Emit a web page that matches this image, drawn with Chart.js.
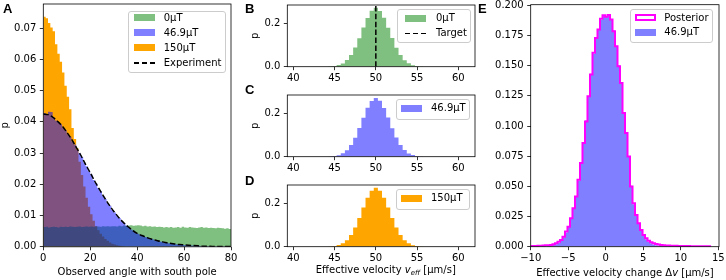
<!DOCTYPE html>
<html><head><meta charset="utf-8">
<script src="https://cdn.jsdelivr.net/npm/chart.js@4.4.1/dist/chart.umd.min.js"></script>
<style>
html,body{margin:0;padding:0;background:#fff;}
body{width:726px;height:280px;position:relative;overflow:hidden;font-family:"DejaVu Sans",sans-serif;}
canvas{position:absolute;}
.lbl{position:absolute;font:bold 13px "Liberation Sans",Arial,sans-serif;line-height:13px;color:#000;z-index:5;}
.leg{position:absolute;border:1px solid #cccccc;border-radius:3px;background:rgba(255,255,255,0.8);box-sizing:border-box;z-index:5;}
.leg .h{position:absolute;box-sizing:border-box;}
.leg .t{position:absolute;font-size:10px;line-height:12px;white-space:nowrap;color:#000;}
.xt{position:absolute;font-size:10px;line-height:12px;white-space:nowrap;transform:translate(-50%,-50%);color:#000;z-index:5;}
.xt sub{font-size:7px;line-height:0;vertical-align:-2px;}
</style></head><body>
<div class="lbl" style="left:3px;top:2.3px">A</div>
<div class="lbl" style="left:245px;top:2.3px">B</div>
<div class="lbl" style="left:245px;top:83.3px">C</div>
<div class="lbl" style="left:245px;top:173.8px">D</div>
<div class="lbl" style="left:478px;top:2.3px">E</div>
<div class="xt" style="left:385.8px;top:269.5px">Effective velocity <i>v</i><sub><i>eff</i></sub> [µm/s]</div>
<div class="xt" style="left:625px;top:273.3px">Effective velocity change Δ<i>v</i> [µm/s]</div>
<script>
// ---------- Panel A: observed angle histograms ----------
const angleBinStart = 0, angleBinWidth = 1;
const angleTicks = [0, 20, 40, 60, 80];
const angleProbTicks = [0, 0.01, 0.02, 0.03, 0.04, 0.05, 0.06, 0.07];
const p0uT = [0.0063,0.0064,0.0062,0.0063,0.0064,0.0063,0.0062,0.0064,0.0063,0.0064,
  0.0063,0.0065,0.0064,0.0063,0.0064,0.0065,0.0063,0.0064,0.0065,0.0064,
  0.0065,0.0064,0.0066,0.0065,0.0064,0.0066,0.0065,0.0066,0.0065,0.0066,
  0.0066,0.0065,0.0067,0.0066,0.0068,0.0067,0.0068,0.0069,0.0067,0.0068,
  0.0069,0.0068,0.0066,0.0067,0.0065,0.0066,0.0064,0.0065,0.0063,0.0064,
  0.0063,0.0062,0.0063,0.0062,0.0063,0.0061,0.0062,0.0063,0.0061,0.0064,
  0.0062,0.0061,0.0063,0.0062,0.0061,0.0060,0.0062,0.0063,0.0061,0.0062,
  0.0060,0.0061,0.0060,0.0059,0.0061,0.0060,0.0059,0.0058,0.0059,0.0057];
const p46uT = [0.0428,0.0425,0.0432,0.0431,0.0414,0.0404,0.0399,0.0392,0.0380,0.0373,
  0.0360,0.0352,0.0337,0.0327,0.0311,0.0299,0.0287,0.0270,0.0258,0.0242,
  0.0231,0.0214,0.0204,0.0188,0.0178,0.0163,0.0153,0.0140,0.0131,0.0118,
  0.0110,0.0099,0.0092,0.0082,0.0076,0.0067,0.0063,0.0055,0.0052,0.0045,
  0.0042,0.0037,0.0035,0.0031,0.0030,0.0026,0.0025,0.0021,0.0020,0.0017,
  0.0016,0.0014,0.0013,0.0011,0.0010,0.0009,0.0008,0.0007,0.0006,0.0006,
  0.0005,0.0005,0.0004,0.0004,0.0003,0.0003,0.0003,0.0002,0.0002,0.0002,
  0.0002,0.0001,0.0001,0.0001,0.0001,0.0001,0.0001,0.0001,0.0001,0.0001];
const p150uT = [0.0736,0.0731,0.0716,0.0702,0.0690,0.0648,0.0618,0.0592,0.0558,0.0515,
  0.0480,0.0440,0.0380,0.0345,0.0315,0.0272,0.0230,0.0193,0.0157,0.0128,
  0.0104,0.0083,0.0066,0.0053,0.0042,0.0033,0.0025,0.0019,0.0014,0.0010,
  0.0007,0.0005,0.0003,0.0002,0.0001];
const experimentAngles = [0,2,4,6,8,10,12,14,16,18,20,22,24,26,28,30,32,34,36,38,40,
  42,44,46,48,50,52,54,56,58,60,62,64,66,68,70,72,74,76,78,80];
const experimentP = [0.0425,0.0423,0.0415,0.0402,0.0387,0.0367,0.0345,0.0319,0.0293,0.0264,0.0237,
  0.0209,0.0183,0.0158,0.0135,0.0114,0.0095,0.0079,0.0065,0.0053,0.0043,
  0.0036,0.0030,0.0025,0.0021,0.0017,0.0014,0.0011,0.0009,0.0007,0.0006,
  0.0005,0.0004,0.0003,0.0002,0.0002,0.0001,0.0001,0.0001,0.0001,0.0001];

// ---------- Panels B-D: effective velocity ----------
const velBinStart = 44.25, velBinWidth = 0.5;
const velTicks = [40, 45, 50, 55, 60];
const velProbTicks = [0, 0.2];
const vel0uT = [0.0012,0.0030,0.0075,0.0152,0.0306,0.0538,0.0890,0.1318,0.1812,0.2252,0.2585,0.2722,
  0.2574,0.2266,0.1801,0.1327,0.0879,0.0545,0.0298,0.0158,0.0071,0.0032,0.0011];
const vel46uT = [0.0011,0.0032,0.0072,0.0158,0.0300,0.0545,0.0880,0.1325,0.1803,0.2262,0.2578,0.2715,
  0.2590,0.2250,0.1815,0.1318,0.0889,0.0536,0.0305,0.0152,0.0074,0.0030,0.0012];
const vel150uT = [0.0012,0.0031,0.0074,0.0154,0.0302,0.0541,0.0884,0.1320,0.1808,0.2256,0.2582,0.2718,
  0.2582,0.2260,0.1806,0.1324,0.0882,0.0542,0.0301,0.0156,0.0072,0.0031,0.0012];
const targetVelocity = 50;

// ---------- Panel E: velocity change ----------
const dvBinStart = -10.1, dvBinWidth = 1 / 3;
const dvTicks = [-10, -5, 0, 5, 10, 15];
const dvProbTicks = [0, 0.025, 0.05, 0.075, 0.1, 0.125, 0.15, 0.175, 0.2];
const posterior = [0.0005,0.0006,0.0006,0.0007,0.0008,0.0009,0.0011,0.0013,0.0015,0.0020,0.0028,0.0040,
  0.0056,0.0083,0.0125,0.0166,0.0236,0.0319,0.0415,0.0554,0.0693,0.0859,0.1038,0.1246,
  0.1426,0.1606,0.1730,0.1800,0.1889,0.1918,0.1905,0.1920,0.1883,0.1786,0.1661,0.1495,
  0.1357,0.1108,0.0942,0.0748,0.0498,0.0360,0.0263,0.0194,0.0139,0.0097,0.0070,0.0050,
  0.0036,0.0028,0.0022,0.0018,0.0015,0.0012,0.0010,0.0009,0.0008,0.0007,0.0007,0.0006,
  0.0006,0.0005,0.0005,0.0005,0.0004,0.0004,0.0004,0.0004,0.0004,0.0004,0.0004,0.0003];
const dv46uT = [0.0001,0.0001,0.0001,0.0002,0.0002,0.0003,0.0004,0.0006,0.0009,0.0014,0.0021,0.0033,
  0.0050,0.0078,0.0118,0.0168,0.0230,0.0316,0.0420,0.0548,0.0700,0.0852,0.1045,0.1240,
  0.1432,0.1598,0.1738,0.1795,0.1880,0.1912,0.1910,0.1912,0.1878,0.1792,0.1655,0.1502,
  0.1350,0.1115,0.0935,0.0752,0.0505,0.0352,0.0258,0.0188,0.0132,0.0090,0.0062,0.0042,
  0.0028,0.0019,0.0013,0.0009,0.0006,0.0004,0.0003,0.0002,0.0002,0.0001,0.0001,0.0001,0.0001];

// ---------- helpers ----------
Chart.defaults.font.family = '"DejaVu Sans", sans-serif';
Chart.defaults.font.size = 10;
Chart.defaults.color = '#000';
Chart.defaults.animation = false;
Chart.defaults.events = [];

function histogram(start, width, vals) {
  const pts = [{x: start, y: 0}];
  vals.forEach((v, i) => pts.push({x: start + i * width, y: v}));
  pts.push({x: start + vals.length * width, y: 0});
  return pts;
}
function histSet(start, width, vals, color, order) {
  return {data: histogram(start, width, vals), stepped: true, fill: 'origin', backgroundColor: color,
    borderColor: 'rgba(0,0,0,0)', borderWidth: 0, pointRadius: 0, order: order};
}
const frame = {id: 'frame', afterDatasetsDraw(chart) {
  const a = chart.chartArea, c = chart.ctx;
  c.save(); c.strokeStyle = '#000'; c.lineWidth = 0.8;
  c.strokeRect(a.left, a.top, a.right - a.left, a.bottom - a.top); c.restore();
}};

function makePanel(p) {
  const PAD = 12;
  const cl = Math.floor(p.l - p.yw) - 1, ct = Math.floor(p.t) - PAD;
  const cr = Math.ceil(p.r) + PAD, cb = Math.ceil(p.b + p.xh) + 1;
  const cv = document.createElement('canvas');
  cv.width = cr - cl; cv.height = cb - ct;
  cv.style.left = cl + 'px'; cv.style.top = ct + 'px';
  document.body.appendChild(cv);
  const grid = {drawOnChartArea: false, drawTicks: true, tickLength: 3.5, color: '#000', lineWidth: 0.8};
  new Chart(cv, {
    type: 'line',
    data: {datasets: p.datasets},
    options: {
      responsive: false, devicePixelRatio: 1, animation: false,
      layout: {padding: {left: p.l - p.yw - cl, top: p.t - ct, right: cr - p.r, bottom: cb - (p.b + p.xh)}},
      plugins: {legend: {display: false}, tooltip: {enabled: false}},
      scales: {
        x: {type: 'linear', min: p.xmin, max: p.xmax, grid: grid, border: {display: false},
          afterBuildTicks: s => { s.ticks = p.xTicks.map(v => ({value: v})); },
          afterFit: s => { s.height = p.xh; },
          ticks: {autoSkip: false, maxRotation: 0, padding: 2, callback: v => String(v).replace('-', '\u2212')},
          title: p.xTitle ? {display: true, text: p.xTitle, padding: {top: 0, bottom: 4}} : {display: false}},
        y: {type: 'linear', min: 0, max: p.ymax, grid: grid, border: {display: false},
          afterBuildTicks: s => { s.ticks = p.yTicks.map(v => ({value: v})); },
          afterFit: s => { s.width = p.yw; },
          ticks: {autoSkip: false, padding: 3.5, callback: v => v.toFixed(p.yDec)},
          title: p.yTitle ? {display: true, text: p.yTitle, padding: {top: 4, bottom: 0}} : {display: false}}
      }
    },
    plugins: [frame]
  });
}

function legend(L) {
  const box = document.createElement('div');
  box.className = 'leg';
  Object.assign(box.style, {left: L.l + 'px', top: L.t + 'px', width: L.w + 'px', height: L.h + 'px'});
  L.rows.forEach(r => {
    const h = document.createElement('div'); h.className = 'h';
    const cy = r.cy - L.t - 1;
    if (r.k === 'dash') {
      Object.assign(h.style, {left: L.hx + 'px', top: (cy - 0.75) + 'px', width: '21px', height: '1.5px',
        background: 'repeating-linear-gradient(to right,#000 0 5.5px,transparent 5.5px 8px)'});
    } else if (r.k === 'outline') {
      Object.assign(h.style, {left: L.hx + 'px', top: (cy - 3.5) + 'px', width: '21px', height: '7px',
        border: '2px solid ' + r.c});
    } else {
      Object.assign(h.style, {left: L.hx + 'px', top: (cy - 3.5) + 'px', width: '21px', height: '7px', background: r.c});
    }
    box.appendChild(h);
    const t = document.createElement('div'); t.className = 't';
    t.textContent = r.label;
    Object.assign(t.style, {left: L.tx + 'px', top: (cy - 6) + 'px'});
    box.appendChild(t);
  });
  document.body.appendChild(box);
}

const GREEN = 'rgba(0,128,0,0.5)', BLUE = 'rgba(0,0,255,0.5)', ORANGE = '#ffa500';

// Panel A
makePanel({l: 43.3, t: 4, r: 231, b: 246.8, yw: 48, xh: 35.9, xmin: 0, xmax: 80, ymax: 0.0777,
  xTicks: angleTicks, yTicks: angleProbTicks, yDec: 2, yTitle: 'p', xTitle: 'Observed angle with south pole',
  datasets: [
    histSet(angleBinStart, angleBinWidth, p0uT, GREEN, 2),
    histSet(angleBinStart, angleBinWidth, p46uT, BLUE, 1),
    histSet(angleBinStart, angleBinWidth, p150uT, ORANGE, 3),
    {data: experimentAngles.map((a, i) => ({x: a, y: experimentP[i]})), borderColor: '#000', borderWidth: 1.5,
      borderDash: [5.5, 2.4], fill: false, pointRadius: 0, cubicInterpolationMode: 'monotone', order: 0}
  ]});

// Panels B, C, D
const velYMax = 0.285;
const velPanels = [
  {t: 5, b: 66.7, vals: vel0uT, color: GREEN, target: true},
  {t: 95, b: 156.7, vals: vel46uT, color: BLUE},
  {t: 185, b: 246.7, vals: vel150uT, color: ORANGE}
];
velPanels.forEach(vp => {
  const ds = [histSet(velBinStart, velBinWidth, vp.vals, vp.color, 1)];
  if (vp.target) ds.push({data: [{x: targetVelocity, y: 0}, {x: targetVelocity, y: velYMax}], borderColor: '#000',
    borderWidth: 1.5, borderDash: [5.5, 2.4], fill: false, pointRadius: 0, order: 0});
  makePanel({l: 287.3, t: vp.t, r: 475, b: vp.b, yw: 42.3, xh: 20, xmin: 39.27, xmax: 62.02, ymax: velYMax,
    xTicks: velTicks, yTicks: velProbTicks, yDec: 1, yTitle: 'p', datasets: ds});
});

// Panel E
makePanel({l: 530.7, t: 4.7, r: 719, b: 246.7, yw: 42, xh: 20, xmin: -10, xmax: 15.09, ymax: 0.2005,
  xTicks: dvTicks, yTicks: dvProbTicks, yDec: 3,
  datasets: [
    histSet(dvBinStart, dvBinWidth, dv46uT, BLUE, 1),
    {data: histogram(dvBinStart, dvBinWidth, posterior), stepped: true, fill: false, borderColor: '#ff00ff',
      borderWidth: 2, borderJoinStyle: 'miter', pointRadius: 0, order: 0}
  ]});

// Legends
legend({l: 128, t: 10.5, w: 98, h: 62.5, hx: 4.7, tx: 34.7, rows: [
  {k: 'patch', c: GREEN, label: '0µT', cy: 17.7},
  {k: 'patch', c: BLUE, label: '46.9µT', cy: 32.5},
  {k: 'patch', c: ORANGE, label: '150µT', cy: 47.7},
  {k: 'dash', label: 'Experiment', cy: 63}]});
legend({l: 396.5, t: 9.3, w: 74, h: 34, hx: 7.8, tx: 38.5, rows: [
  {k: 'patch', c: GREEN, label: '0µT', cy: 18.3},
  {k: 'dash', label: 'Target', cy: 33.3}]});
legend({l: 395.7, t: 99.3, w: 74.5, h: 20.7, hx: 4.3, tx: 34.3, rows: [
  {k: 'patch', c: BLUE, label: '46.9µT', cy: 108.3}]});
legend({l: 395.7, t: 189.3, w: 74.5, h: 21, hx: 4.3, tx: 34.3, rows: [
  {k: 'patch', c: ORANGE, label: '150µT', cy: 198.3}]});
legend({l: 630, t: 9.3, w: 83.3, h: 33.4, hx: 4, tx: 33.3, rows: [
  {k: 'outline', c: '#ff00ff', label: 'Posterior', cy: 17.7},
  {k: 'patch', c: BLUE, label: '46.9µT', cy: 32.3}]});
</script>
</body></html>
